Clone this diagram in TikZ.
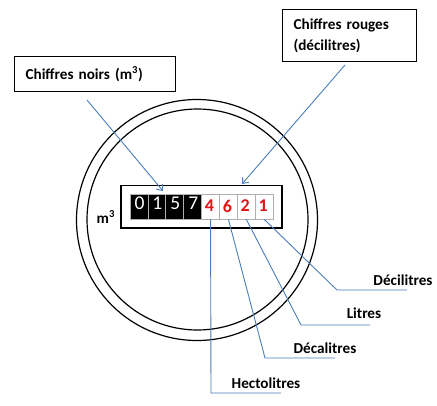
\documentclass[tikz,border=0pt]{standalone}
\usepackage{fontspec}
\setmainfont{Carlito}
\usetikzlibrary{arrows.meta}
\definecolor{leader}{RGB}{74,126,187}
\definecolor{rouge}{RGB}{224,20,20}
\definecolor{cellgray}{RGB}{175,175,175}
\begin{document}
\begin{tikzpicture}[x=1pt,y=-1pt,
  txt/.style={font=\bfseries\fontsize{15.2}{21}\selectfont, inner sep=0pt},
  callout/.style={draw, line width=1.1pt, font=\bfseries\fontsize{15.2}{21}\selectfont,
    align=left, inner xsep=11pt, inner ysep=0pt, anchor=north west},
  leaderline/.style={draw=leader, line width=0.9pt},
  pointer/.style={leaderline, -{Straight Barb[length=5pt,width=8pt]}},
  ring/.style={draw, line width=1.2pt},
  cell/.style={draw=cellgray, line width=0.8pt, minimum width=17.9pt, minimum height=25pt, inner sep=0pt},
  blackcell/.style={cell, fill=black},
  whitecell/.style={cell, fill=white},
  blackdigit/.style={text=white, font=\fontsize{19.5}{19.5}\selectfont, inner sep=0pt},
  reddigit/.style={text=rouge, font=\bfseries\fontsize{18}{18}\selectfont, inner sep=0pt},
  ]
\useasboundingbox (0,0) rectangle (437,405);

% meter dial
\node[circle, ring, minimum size=241pt, inner sep=0pt] (outer) at (197,220) {};
\node[circle, ring, minimum size=221pt, inner sep=0pt] (inner) at (197.5,219.5) {};

% counter window
\node[draw, line width=1.2pt, minimum width=161pt, minimum height=42.5pt, inner sep=0pt] (window) at (201.5,206.75) {};
\node[txt, anchor=base west] (unit) at (96.5,223) {m\textsuperscript{3}};

% digit drums
\foreach \i/\s in {0/blackcell,1/blackcell,2/blackcell,3/blackcell,4/whitecell,5/whitecell,6/whitecell,7/whitecell}
  \node[\s] (c\i) at ({130+17.9*(\i+0.5)},206.5) {};

\node[blackdigit] (d0) at (139.5,203) {0};
\node[blackdigit] (d1) at (157.4,203) {1};
\node[blackdigit] (d2) at (175.3,203) {5};
\node[blackdigit] (d3) at (193.2,203) {7};
\node[reddigit] (d4) at (209.5,206) {4};
\node[reddigit] (d5) at (227.4,206) {6};
\node[reddigit] (d6) at (245.3,206) {2};
\node[reddigit] (d7) at (263.2,206) {1};

% callouts
\node[callout, text width=139pt, minimum height=35pt] (noirs) at (14,56) {Chiffres noirs (m\textsuperscript{3})};
\node[callout, text width=112pt, minimum height=52pt] (rouges) at (282,9) {Chiffres rouges\\(décilitres)};

\coordinate (noirsfrom) at (87,100);
\coordinate (noirsto) at (163,191);
\coordinate (rougesfrom) at (345,65);
\coordinate (rougesto) at (242,184);
\draw[pointer] (noirsfrom) -- (noirsto);
\draw[pointer] (rougesfrom) -- (rougesto);

% unit leaders
\coordinate (hbend) at (211,393);  \coordinate (hend) at (281,393);
\coordinate (dabend) at (265,358); \coordinate (daend) at (335,358);
\coordinate (lbend) at (301,325);  \coordinate (lend) at (370,325);
\coordinate (dbend) at (337,290);  \coordinate (dend) at (407,290);

\draw[leaderline] (c4.south) -- (hbend) -- (hend);
\draw[leaderline] (c5.south) -- (dabend) -- (daend);
\draw[leaderline] (c6.south) -- (lbend) -- (lend);
\draw[leaderline] (c7.south) -- (dbend) -- (dend);

\node[txt] (hecto) at (266,383) {Hectolitres};
\node[txt] (deca) at (325,348) {Décalitres};
\node[txt] (litres) at (364,313) {Litres};
\node[txt] (deci) at (403,280) {Décilitres};
\end{tikzpicture}
\end{document}
